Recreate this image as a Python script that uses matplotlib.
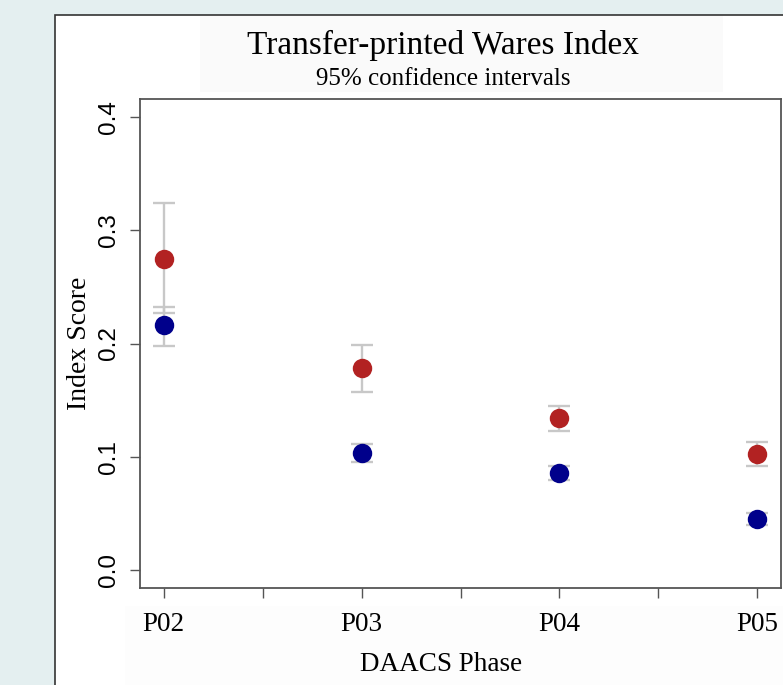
import numpy as np
import matplotlib.pyplot as plt
from matplotlib.patches import Rectangle

phases = ['P02', 'P03', 'P04', 'P05']

# index score with 95% confidence limits, two groups per phase
red_mean = [0.275, 0.178, 0.134, 0.102]
red_lo = [0.227, 0.157, 0.123, 0.092]
red_hi = [0.324, 0.199, 0.145, 0.113]

blue_mean = [0.216, 0.103, 0.086, 0.045]
blue_lo = [0.198, 0.095, 0.079, 0.040]
blue_hi = [0.232, 0.111, 0.092, 0.050]

y_ticks = [0.0, 0.1, 0.2, 0.3, 0.4]

W, H = 783, 685
fig = plt.figure(figsize=(W / 100, H / 100), dpi=100)
fig.patch.set_facecolor('#e4eff0')

serif = ['Liberation Serif', 'DejaVu Serif']
sans = ['Liberation Sans', 'DejaVu Sans']

# white page panel behind the plot
fig.patches.append(Rectangle((55 / W, -0.1), 1.0, 1 - 15 / H + 0.1,
                             transform=fig.transFigure, facecolor='white',
                             edgecolor='#333333', linewidth=1.2, zorder=-2))
# faint header and footer strips
fig.patches.append(Rectangle((200 / W, 1 - 92 / H), 523 / W, 76 / H,
                             transform=fig.transFigure, facecolor='#fafafa',
                             edgecolor='none', zorder=-1))
fig.patches.append(Rectangle((125 / W, -0.1), 1.0, 1 - 606 / H + 0.1,
                             transform=fig.transFigure, facecolor='#fdfdfd',
                             edgecolor='none', zorder=-1))

ax = fig.add_axes([140 / W, 1 - 588 / H, 641 / W, 489 / H])
ax.set_facecolor('white')

x = np.arange(1, len(phases) + 1)


def draw_group(mean, lo, hi, color):
    mean = np.array(mean)
    err = np.vstack([mean - np.array(lo), np.array(hi) - mean])
    ax.errorbar(x, mean, yerr=err, fmt='none', ecolor='#c8c8c8',
                elinewidth=1.7, capsize=7.9, capthick=1.7, zorder=2)
    ax.plot(x, mean, 'o', color=color, markersize=14, markeredgewidth=0,
            zorder=3)


draw_group(blue_mean, blue_lo, blue_hi, '#00008b')
draw_group(red_mean, red_lo, red_hi, '#b22222')

ax.set_xlim(0.88, 4.12)
ax.set_ylim(-0.016, 0.416)
ax.set_xticks(x)
ax.set_xticks([1.5, 2.5, 3.5], minor=True)
ax.set_xticklabels(phases, fontfamily=serif, fontsize=19.5)
ax.set_yticks(y_ticks)
ax.set_yticklabels(['%.1f' % v for v in y_ticks], fontfamily=sans,
                   fontsize=17.5, rotation=90, va='center')

for side in ax.spines.values():
    side.set_color('#555555')
    side.set_linewidth(1.3)
ax.tick_params(axis='both', which='both', length=7.5, width=1.0,
               color='#555555', direction='out')
ax.tick_params(axis='x', pad=10)
ax.tick_params(axis='y', pad=7)

ax.set_ylabel('Index Score', fontfamily=serif, fontsize=20, labelpad=4)
fig.text(441 / W, 1 - 671 / H, 'DAACS Phase', fontfamily=serif,
         fontsize=19.5, ha='center', va='baseline')

fig.text(443 / W, 1 - 54 / H, 'Transfer-printed Wares Index',
         fontfamily=serif, fontsize=24, ha='center', va='baseline')
fig.text(443 / W, 1 - 85 / H, '95% confidence intervals',
         fontfamily=serif, fontsize=18, ha='center', va='baseline')

fig.savefig('out.png', dpi=100, facecolor=fig.get_facecolor())
